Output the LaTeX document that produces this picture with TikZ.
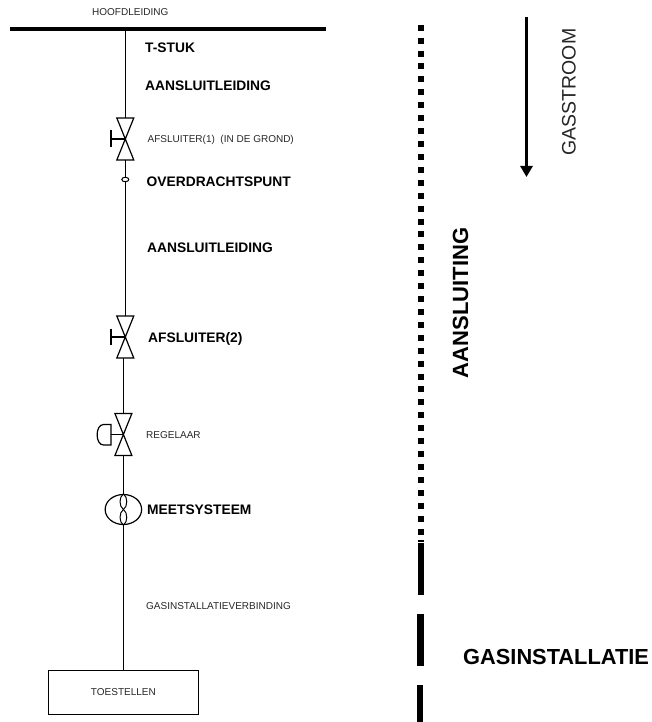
\documentclass[tikz,border=0pt]{standalone}
\usepackage{fontspec}
\setmainfont{Liberation Sans}
\usetikzlibrary{shapes.geometric,arrows.meta}
\tikzset{
  smalllabel/.style={anchor=west,inner sep=0pt,text=black!85,font=\fontsize{10}{12}\selectfont},
  boldlabel/.style={anchor=west,inner sep=0pt,font=\bfseries\fontsize{13.8}{16}\selectfont},
  pipe/.style={line width=1.2pt,draw=black},
  valvebox/.style={inner sep=0pt,minimum width=16.5pt,minimum height=41.5pt},
  valveline/.style={line width=1.2pt,line join=miter},
  dotline/.style={line width=6pt,dash pattern=on 6pt off 6.92pt},
  barline/.style={line width=6.3pt},
}
\begin{document}
\begin{tikzpicture}[x=1pt,y=-1pt]
\useasboundingbox (0,0) rectangle (652,722);
% main header
\coordinate (hl) at (10,29.2);
\coordinate (hr) at (326,29.2);
\draw[line width=3.8pt] (hl) -- (hr);
\node[smalllabel] (thoofd) at (92,12.5) {HOOFDLEIDING};
\coordinate (tee) at (125.3,29.2);
% valves
\node[valvebox] (v1) at (125.3,139) {};
\node[valvebox] (v2) at (125.3,337) {};
\node[valvebox] (v3) at (123.4,434.5) {};
\draw[valveline] (v1.north west) -- (v1.north east) -- (v1.south west) -- (v1.south east) -- cycle;
\draw[valveline] (v2.north west) -- (v2.north east) -- (v2.south west) -- (v2.south east) -- cycle;
\draw[valveline] (v3.north west) -- (v3.north east) -- (v3.south west) -- (v3.south east) -- cycle;
% handles
\coordinate (h1) at (111,139);
\draw[pipe] (h1) -- (v1.center);
\draw[pipe] (111,130.5) -- (111,147);
\coordinate (h2) at (111,337);
\draw[pipe] (h2) -- (v2.center);
\draw[pipe] (111,328.5) -- (111,345);
% regulator actuator
\coordinate (a3) at (111,434.5);
\draw[pipe] (a3) -- (v3.center);
\draw[pipe] (111,424.5) -- (103.5,424.5) .. controls (95,424.5) and (95,445) .. (103.5,445) -- (111,445) -- cycle;
% transfer point
\node[ellipse,draw,line width=1pt,inner sep=0pt,minimum width=7pt,minimum height=4.5pt] (op) at (125.3,179.5) {};
% meter
\node[ellipse,draw,line width=1.2pt,inner sep=0pt,minimum width=36.5pt,minimum height=30pt] (m) at (123.4,509.5) {};
\draw[line width=1pt] (m.north) .. controls +(4.5,3) and +(4.5,-3) .. (m.center) .. controls +(-4.5,3) and +(-4.5,-3) .. (m.south);
\draw[line width=1pt] (m.north) .. controls +(-4.5,3) and +(-4.5,-3) .. (m.center) .. controls +(4.5,3) and +(4.5,-3) .. (m.south);
% box
\node[draw,line width=1.2pt,inner sep=0pt,minimum width=150pt,minimum height=44.5pt,text=black!85,font=\fontsize{10}{12}\selectfont] (box) at (123.4,692.5) {TOESTELLEN};
% pipes
\draw[pipe] (tee) -- (v1.north);
\draw[pipe] (v1.south) -- (op.north);
\draw[pipe] (op.south) -- (v2.north);
\draw[pipe] (v3.north |- v2.south) -- (v3.north);
\draw[pipe] (v3.south) -- (m.north);
\draw[pipe] (m.south) -- (box.north);
% labels
\node[boldlabel] (t1) at (145,47.5) {T-STUK};
\node[boldlabel] (t2) at (145,86) {AANSLUITLEIDING};
\node[smalllabel] (t3) at (147.5,140) {AFSLUITER(1)\ \ (IN DE GROND)};
\node[boldlabel] (t4) at (146.5,181.5) {OVERDRACHTSPUNT};
\node[boldlabel] (t5) at (147,247.5) {AANSLUITLEIDING};
\node[boldlabel] (t6) at (148,338.5) {AFSLUITER(2)};
\node[smalllabel] (t7) at (146,435) {REGELAAR};
\node[boldlabel] (t8) at (147,509.5) {MEETSYSTEEM};
\node[smalllabel] (t9) at (146,606.5) {GASINSTALLATIEVERBINDING};
% right side
\coordinate (d0) at (421,24.7);
\coordinate (d1) at (421,537);
\draw[dotline] (d0) -- (d1);
\coordinate (b1a) at (420.8,540);
\coordinate (b1b) at (420.8,595);
\draw[barline] (b1a) -- (b1b);
\draw[white,line width=.8pt] (417,542.3) -- (425,542.3);
\coordinate (b2a) at (420.5,614);
\coordinate (b2b) at (420.5,666);
\draw[barline] (b2a) -- (b2b);
\coordinate (b3a) at (420.2,685);
\coordinate (b3b) at (420.2,722);
\draw[barline] (b3a) -- (b3b);
\coordinate (fa) at (526.5,17);
\coordinate (fb) at (526.5,177);
\draw[line width=3pt,-{Triangle[length=11pt,width=12pt]}] (fa) -- (fb);
\node[rotate=90,inner sep=0pt,text=black!85,font=\fontsize{19.5}{22}\selectfont] (tg) at (569,92) {GASSTROOM};
\node[rotate=90,inner sep=0pt,font=\bfseries\fontsize{22}{26}\selectfont] (ta) at (460.5,303) {AANSLUITING};
\node[anchor=west,inner sep=0pt,font=\bfseries\fontsize{21.8}{25}\selectfont] (ti) at (463,656.5) {GASINSTALLATIE};
\end{tikzpicture}
\end{document}
